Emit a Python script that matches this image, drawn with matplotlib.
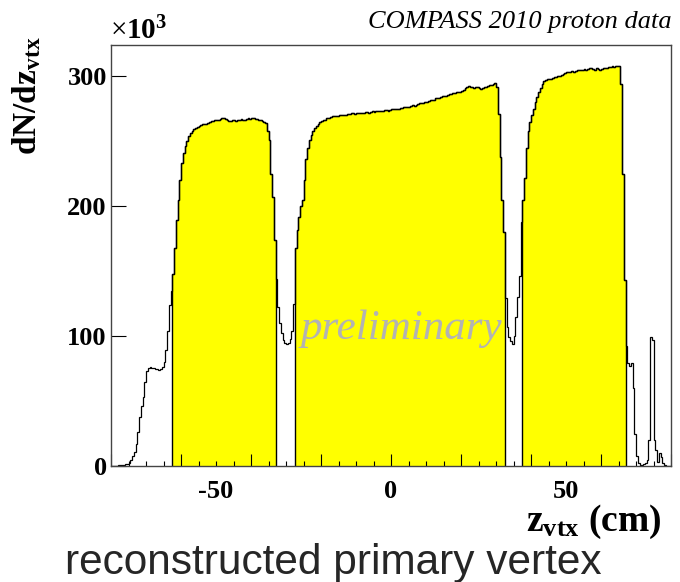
import numpy as np
import matplotlib
matplotlib.use("Agg")
import matplotlib.pyplot as plt
from matplotlib.ticker import MultipleLocator, NullFormatter

# reconstructed z of the primary vertex, 0.5 cm bins from -80 to 80 cm (counts / 1000)
bin_edges = np.arange(-80.0, 80.0001, 0.5)
counts_k = np.array([
    0.0, 0.1, 0.2, 0.3, 0.5, 0.6, 0.8, 1.0, 1.3, 1.8,                     # -80
    2.5, 4.5, 7.5, 11, 17, 26, 38, 46, 53, 65,                            # -75
    73, 75.5, 76, 75.5, 75.5, 75, 74.5, 74, 75, 76,                       # -70
    80, 89, 104, 124, 135, 148, 168, 189, 205, 220,                       # -65
    233, 241, 246, 250, 254, 256, 258, 259.5, 260.5, 261,                 # -60
    261.5, 262.5, 263, 263.5, 263.5, 264, 265, 265.5, 265.5, 266,         # -55
    266, 266.5, 267, 267.5, 267.5, 267, 266.5, 265.5, 265.5, 266,         # -50
    266, 265.5, 266, 266.5, 267, 266.5, 266.5, 267, 267.5, 267,           # -45
    267.5, 267.5, 267, 267, 266.5, 266, 265.5, 265, 264, 258,             # -40
    251, 225, 207, 174, 144, 122, 110, 102, 97, 95,                       # -35
    94, 95, 98, 104, 125, 168, 182, 192, 200, 205,                        # -30
    220, 236, 245, 251, 255, 258, 260, 262, 263.5, 264.5,                 # -25
    265.5, 266, 266.5, 267.5, 268, 268.5, 269, 269, 269.5, 269.5,         # -20
    270, 270, 270.5, 270.5, 270, 271, 271, 271.5, 271.5, 271,             # -15
    272, 272, 272, 271.5, 272, 272.5, 272.5, 272, 272.5, 273,             # -10
    272.5, 273, 273, 273.5, 273.5, 273, 274, 274, 273.5, 274,             # -5
    274.5, 274.5, 275, 274.5, 275, 275.5, 275.5, 276, 276, 276.5,         # 0
    276.5, 277, 277.5, 277, 278, 278.5, 279, 279, 279.5, 280,             # 5
    280.5, 281, 281.5, 282, 282, 283, 283.5, 283.5, 284, 284.5,           # 10
    285, 285, 285.5, 286, 286.5, 287, 287, 287.5, 288, 288,               # 15
    288.5, 289, 291, 292, 292.5, 292, 291.5, 291, 291.5, 291.5,           # 20
    291, 290.5, 291, 291.5, 292, 292.5, 293, 293.5, 294, 294.5,           # 25
    292, 271, 238, 205, 180, 129, 107, 99.5, 96, 94,                      # 30
    100, 115, 130, 146, 188, 205, 222, 245, 258, 265,                     # 35
    270, 275, 280, 284, 288, 291, 294, 296.5, 297, 297.5,                 # 40
    298, 298, 298.5, 299, 299.5, 300, 300.5, 301, 302, 302.5,             # 45
    303, 303, 303.5, 304, 303.5, 304, 304.5, 305, 304.5, 305,             # 50
    305.5, 305, 305.5, 306, 306, 305.5, 305, 306, 305.5, 305,             # 55
    305.5, 306, 306.5, 306, 307, 307, 307.5, 307, 307.5, 308,             # 60
    307.5, 294, 225, 143, 92, 79, 77, 79, 60, 25,                         # 65
    8, 2, 1, 1, 1.5, 2, 5, 20, 99, 97,                                    # 70
    20, 12, 3, 10, 7, 2, 0.5, 0.3, 0.2, 0.2,                              # 75
])

# target cells selected by the vertex cut
cell_cuts = [(-62.5, -33.0), (-27.5, 32.5), (37.5, 67.0)]
x_labels = [-50, 0, 50]

plt.rcParams["font.family"] = ["Liberation Serif", "DejaVu Serif"]
plt.rcParams["mathtext.fontset"] = "custom"
plt.rcParams["mathtext.rm"] = "Liberation Serif"
plt.rcParams["mathtext.it"] = "Liberation Serif:italic"
plt.rcParams["mathtext.bf"] = "Liberation Serif:bold"

fig = plt.figure(figsize=(6.8, 5.82), dpi=100)
ax = fig.add_axes([111 / 680, 1 - 466 / 582, 560 / 680, 421 / 582])

for lo, hi in cell_cuts:
    i0 = int(np.searchsorted(bin_edges, lo - 1e-6))
    i1 = int(np.searchsorted(bin_edges, hi - 1e-6))
    ax.stairs(counts_k[i0:i1], bin_edges[i0:i1 + 1], fill=True, baseline=0,
              facecolor="#ffff00", edgecolor="black", linewidth=1.0, zorder=1)

ax.stairs(counts_k, bin_edges, color="black", linewidth=0.9, zorder=2)

ax.set_xlim(-80, 80)
ax.set_ylim(0, 324)

for s in ax.spines.values():
    s.set_color("#444444")
    s.set_linewidth(1.0)

# x axis: long ticks every 20, short every 5, labels every 50
ax.xaxis.set_major_locator(MultipleLocator(20))
ax.xaxis.set_minor_locator(MultipleLocator(5))
ax.xaxis.set_major_formatter(NullFormatter())
ax.tick_params(axis="x", which="major", direction="in", length=8.5, width=0.8,
               color="black")
ax.tick_params(axis="x", which="minor", direction="in", length=3.8, width=0.8,
               color="black")
for xv in x_labels:
    ax.text(xv, -0.033, f"{xv}", transform=ax.get_xaxis_transform(),
            ha="center", va="top", fontsize=19, fontweight="bold")

ax.yaxis.set_major_locator(MultipleLocator(100))
ax.tick_params(axis="y", which="major", direction="in", length=11, width=0.8,
               pad=3, labelsize=19, color="black")
for lab in ax.get_yticklabels():
    lab.set_fontweight("bold")

fig.text(110 / 680, 1 - 45 / 582, r"$\times\mathbf{10^{3}}$",
         ha="left", va="bottom", fontsize=21)

fig.text(672 / 680, 1 - 28 / 582, "COMPASS 2010 proton data",
         ha="right", va="baseline", fontsize=19, style="italic")

fig.text(27 / 680, 1 - 36 / 582, r"$\mathbf{dN/dz_{vtx}}$", rotation=90,
         ha="center", va="top", fontsize=24)

fig.text(661 / 680, 1 - 531 / 582, r"$\mathbf{z_{vtx}}$ (cm)",
         ha="right", va="baseline", fontsize=27, fontweight="bold")

ax.text(3, 106, "preliminary", ha="center", va="center", fontsize=31,
        style="italic", color="#b3b3b3", zorder=3)

fig.text(65 / 680, 1 - 574 / 582, "reconstructed primary vertex",
         ha="left", va="baseline", fontsize=30.5, color="#262626",
         family=["Liberation Sans", "DejaVu Sans"])

fig.savefig("out.png", dpi=100)
